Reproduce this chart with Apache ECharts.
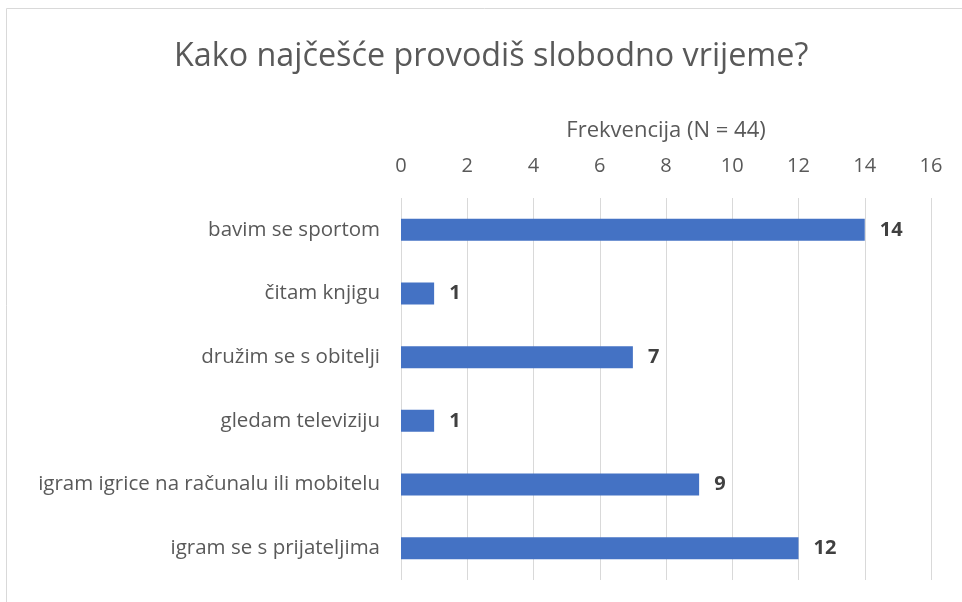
<!DOCTYPE html>
<html lang="hr">
<head>
    <meta charset="UTF-8">
    <title>Slobodno vrijeme</title>
    <script src="https://cdn.jsdelivr.net/npm/echarts@6/dist/echarts.min.js"></script>
    <style>
        body { margin: 0; padding: 0; overflow: hidden; background: #fff; }
        #main { width: 962px; height: 602px; }
    </style>
</head>
<body>
<div id="main"></div>
<script>
    var categories = ['bavim se sportom', 'čitam knjigu', 'družim se s obitelji', 'gledam televiziju', 'igram igrice na računalu ili mobitelu', 'igram se s prijateljima'];
    var values = [14, 1, 7, 1, 9, 12];
    var titleText = 'Kako najčešće provodiš slobodno vrijeme?';
    var axisName = 'Frekvencija (N = 44)';

    var font = 'Open Sans';
    var chart = echarts.init(document.getElementById('main'));

    var option = {
        animation: false,
        graphic: [{
            type: 'rect',
            shape: { x: 6.5, y: 8.5, width: 1000, height: 700 },
            style: { fill: 'none', stroke: '#d9d9d9', lineWidth: 1 }
        }],
        title: {
            text: titleText,
            left: 169,
            top: 36,
            textStyle: { fontFamily: font, fontSize: 32.3, fontWeight: 'normal', color: '#595959' }
        },
        grid: { left: 401, right: 31, top: 198, bottom: 22 },
        xAxis: {
            type: 'value',
            position: 'top',
            min: 0,
            max: 16,
            interval: 2,
            name: axisName,
            nameLocation: 'middle',
            nameGap: 56,
            nameTextStyle: { fontFamily: font, fontSize: 22, color: '#595959' },
            axisLine: { show: false },
            axisTick: { show: false },
            axisLabel: { fontFamily: font, fontSize: 20, color: '#595959', margin: 22 },
            splitLine: { lineStyle: { color: '#d9d9d9', width: 1 } }
        },
        yAxis: {
            type: 'category',
            inverse: true,
            data: categories,
            axisLine: { show: false },
            axisTick: { show: false },
            axisLabel: { fontFamily: font, fontSize: 20.5, color: '#595959', margin: 21 }
        },
        series: [{
            type: 'bar',
            data: values,
            barWidth: 22,
            itemStyle: { color: '#4472c4' },
            label: {
                show: true,
                position: 'right',
                distance: 15,
                fontFamily: font,
                fontSize: 20,
                fontWeight: 'bold',
                color: '#404040'
            }
        }]
    };
    chart.setOption(option);
</script>
</body>
</html>
